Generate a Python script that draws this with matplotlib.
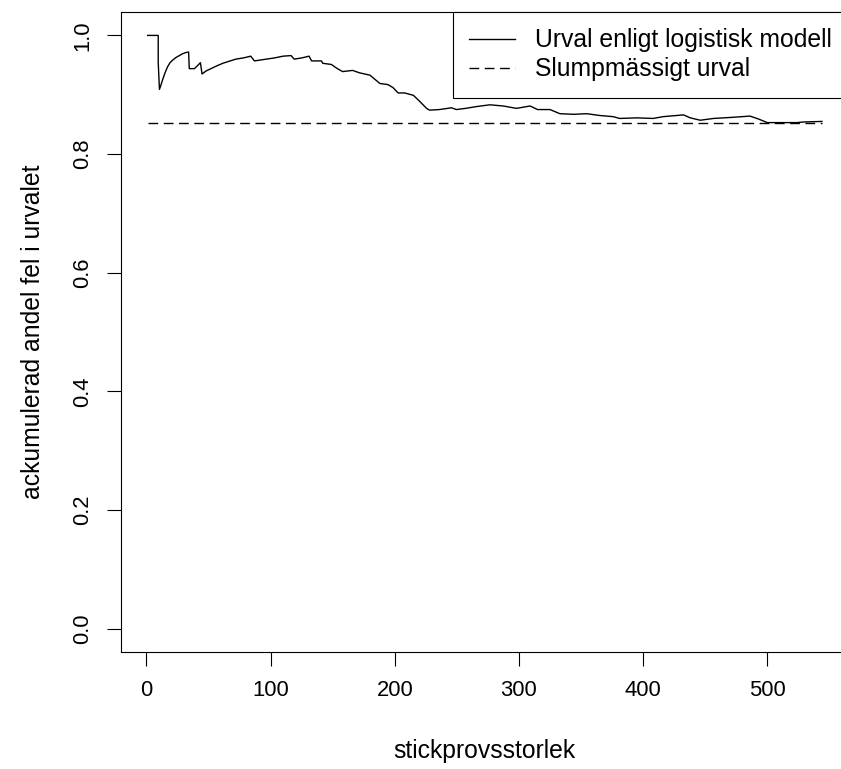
import numpy as np
from matplotlib import pyplot as plt

plt.rcParams['font.family'] = ['Liberation Sans', 'DejaVu Sans']

# cumulative share of errors, logistic-model selection
n_model = [1, 9.5, 9.5, 10.5, 11.5, 13, 15, 17, 19, 21.5, 24, 26.5, 29, 31.5,
           34, 34.5, 38.7, 43.5, 44.8, 48, 52, 56, 61.5, 66, 72, 78, 84, 87,
           96.5, 103, 110, 116.5, 119, 125, 131, 133, 141, 142, 149, 153, 158,
           166, 171.5, 180, 184, 188, 194.6, 198.6, 202.7, 208, 215, 220, 225.6,
           228, 236, 245.7, 249.6, 257, 265.7, 276.6, 287.4, 298, 309, 315, 325,
           333, 344, 354.6, 365, 376, 381, 395, 408, 416, 427, 432.5, 438, 446,
           456.7, 472.8, 486, 493, 500, 510.5, 524, 529, 544]
p_model = [1.0, 1.0, 0.955, 0.909, 0.915, 0.925, 0.937, 0.947, 0.954, 0.959,
           0.963, 0.966, 0.969, 0.971, 0.972, 0.944, 0.944, 0.954, 0.935, 0.940,
           0.944, 0.948, 0.953, 0.956, 0.960, 0.962, 0.965, 0.957, 0.960, 0.962,
           0.965, 0.966, 0.960, 0.962, 0.965, 0.957, 0.957, 0.953, 0.951, 0.945,
           0.939, 0.941, 0.937, 0.933, 0.926, 0.919, 0.917, 0.912, 0.903, 0.903,
           0.899, 0.889, 0.877, 0.874, 0.875, 0.878, 0.875, 0.877, 0.880, 0.883,
           0.881, 0.877, 0.881, 0.875, 0.875, 0.868, 0.867, 0.868, 0.865, 0.863,
           0.860, 0.861, 0.860, 0.863, 0.865, 0.866, 0.861, 0.857, 0.860, 0.862,
           0.864, 0.859, 0.853, 0.853, 0.853, 0.854, 0.855]

# random selection baseline
n_random = [1, 544]
p_random = [0.853, 0.853]

xticks = [0, 100, 200, 300, 400, 500]
yticks = [0.0, 0.2, 0.4, 0.6, 0.8, 1.0]

fs = 15.8     # tick labels
fs2 = 17.8    # axis labels and legend
fig = plt.figure(figsize=(8.41, 7.69), dpi=100)
ax = fig.add_axes([0.1435, 0.1518, 0.8659, 0.833])

ax.plot(n_model, p_model, color='black', lw=1.0,
        label='Urval enligt logistisk modell')
ax.plot(n_random, p_random, color='black', lw=1.0, dashes=(7, 4),
        label='Slumpmässigt urval')

ax.set_xlim(-20.72, 565.72)
ax.set_ylim(-0.04, 1.04)
ax.set_xticks(xticks)
ax.set_yticks(yticks)
ax.set_xticklabels([str(t) for t in xticks])
ax.set_yticklabels([f'{t:.1f}' for t in yticks])
ax.tick_params(axis='both', direction='out', length=10, width=0.8,
               labelsize=fs, pad=10)
plt.setp(ax.get_yticklabels(), rotation=90, va='center')
for s in ax.spines.values():
    s.set_linewidth(0.8)

ax.set_xlabel('stickprovsstorlek', fontsize=fs2)
ax.set_ylabel('ackumulerad andel fel i urvalet', fontsize=fs2)
ax.xaxis.set_label_coords(0.5, -0.135)
ax.yaxis.set_label_coords(-0.104, 0.5)

leg = ax.legend(loc='upper right', fontsize=fs2, borderaxespad=0, fancybox=False,
                edgecolor='black', framealpha=1, handlelength=1.85,
                handletextpad=0.81, borderpad=0.68, labelspacing=0.2)
leg.get_frame().set_linewidth(0.8)

plt.savefig('out.png', dpi=100)
